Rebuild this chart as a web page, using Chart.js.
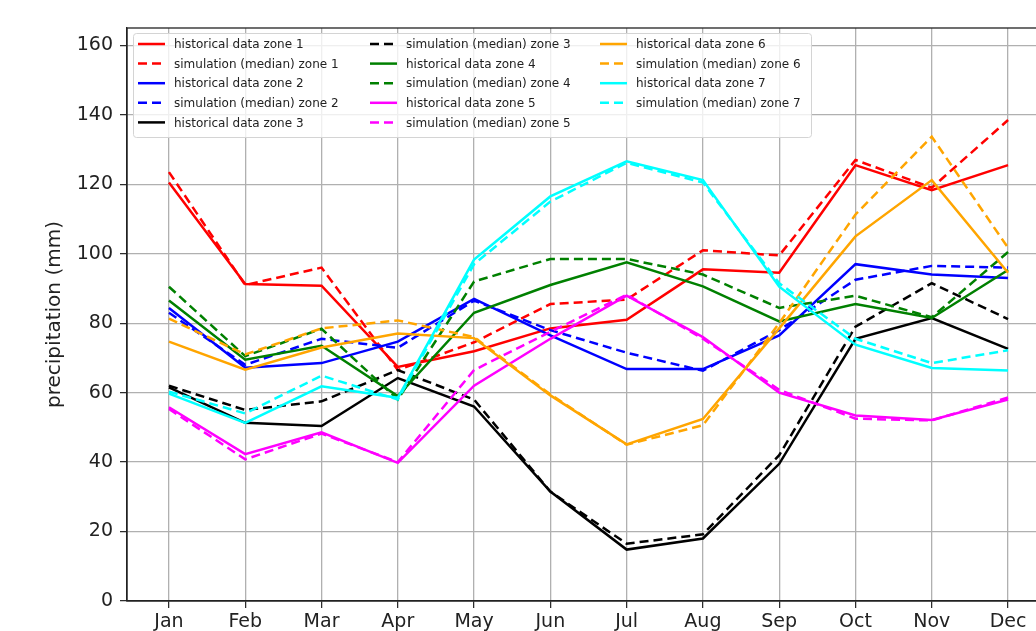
<!DOCTYPE html>
<html>
<head>
<meta charset="utf-8">
<script src="https://cdn.jsdelivr.net/npm/chart.js@4.4.1/dist/chart.umd.min.js"></script>
<style>
    html, body { margin: 0; padding: 0; background: #fff; overflow: hidden; }
    #wrap { width: 1036px; height: 631px; overflow: hidden; }
    canvas { display: block; }
</style>
</head>
<body>
<div id="wrap"><canvas id="precipChart" width="1072" height="660"></canvas></div>
<script>
const months = ["Jan", "Feb", "Mar", "Apr", "May", "Jun", "Jul", "Aug", "Sep", "Oct", "Nov", "Dec"];
const yTicks = [0, 20, 40, 60, 80, 100, 120, 140, 160];

const histZone1 = [120.5, 91.3, 90.8, 67.4, 71.9, 78.5, 81, 95.5, 94.5, 125.5, 118.3, 125.5];
const simZone1 = [123.5, 91, 96, 66.5, 74.5, 85.5, 86.8, 101, 99.5, 127, 119, 138.5];
const histZone2 = [84.4, 67.2, 68.5, 74.7, 87, 76.5, 66.8, 66.8, 76.5, 97, 94, 93];
const simZone2 = [83, 68, 75.5, 72.9, 86.5, 78, 71.5, 66.3, 78, 92.5, 96.5, 96];
const histZone3 = [61.5, 51.3, 50.4, 64.2, 56, 31.5, 14.8, 18, 39.5, 75.5, 81.5, 72.6];
const simZone3 = [62, 55, 57.5, 66.5, 58, 31.5, 16.5, 19.2, 42, 79, 91.5, 81.2];
const histZone4 = [86.5, 69.5, 73.5, 59, 83, 91, 97.5, 90.6, 80.5, 85.5, 81.5, 95.3];
const simZone4 = [90.5, 70.5, 78.4, 58, 92, 98.5, 98.5, 94, 84.4, 87.9, 81.7, 100.5];
const histZone5 = [55.8, 42.3, 48.6, 39.8, 62, 75.5, 87.9, 76, 60, 53.4, 52.1, 58];
const simZone5 = [55.3, 40.8, 48.2, 40, 66.5, 77.5, 88.2, 75.5, 60.8, 52.5, 52, 58.6];
const histZone6 = [74.7, 66.6, 73, 77, 75.7, 59.2, 45.1, 52.4, 78.5, 105, 121.2, 94.5];
const simZone6 = [81.3, 71, 78.5, 80.8, 76, 59.5, 45, 50.6, 80, 111.3, 133.7, 101.7];
const histZone7 = [59.7, 51.3, 61.8, 58.5, 98.3, 116.5, 126.6, 121.2, 90.5, 73.8, 67.1, 66.4];
const simZone7 = [60.3, 54, 64.9, 58, 97, 115, 126.2, 120.5, 91.5, 75.5, 68.5, 72.2];

const tickFont = { family: "DejaVu Sans", size: 19 };
const textColor = "#222";

function series(label, values, color, dashed, idx) {
    return {
        label: label,
        data: values.map((v, i) => ({ x: i, y: v })),
        borderColor: color,
        backgroundColor: color,
        borderWidth: 2.5,
        borderDash: dashed ? [9, 5] : [],
        pointRadius: 0,
        tension: 0,
        fill: false,
        order: -idx, // later series on top, like matplotlib
    };
}

const datasets = [
    series("historical data zone 1", histZone1, "red", false, 0),
    series("simulation (median) zone 1", simZone1, "red", true, 1),
    series("historical data zone 2", histZone2, "blue", false, 2),
    series("simulation (median) zone 2", simZone2, "blue", true, 3),
    series("historical data zone 3", histZone3, "black", false, 4),
    series("simulation (median) zone 3", simZone3, "black", true, 5),
    series("historical data zone 4", histZone4, "green", false, 6),
    series("simulation (median) zone 4", simZone4, "green", true, 7),
    series("historical data zone 5", histZone5, "magenta", false, 8),
    series("simulation (median) zone 5", simZone5, "magenta", true, 9),
    series("historical data zone 6", histZone6, "orange", false, 10),
    series("simulation (median) zone 6", simZone6, "orange", true, 11),
    series("historical data zone 7", histZone7, "cyan", false, 12),
    series("simulation (median) zone 7", simZone7, "cyan", true, 13),
];

// frame on top/right like matplotlib spines
const framePlugin = {
    id: "frame",
    afterDraw(chart) {
        const { ctx, chartArea: a } = chart;
        ctx.save();
        ctx.strokeStyle = "#222";
        ctx.lineWidth = 1.3;
        ctx.strokeRect(a.left, a.top, a.right - a.left, a.bottom - a.top);
        ctx.restore();
    },
};

// matplotlib style legend, 3 columns filled column by column
const mplLegend = {
    id: "mplLegend",
    afterDatasetsDraw(chart) {
        const ctx = chart.ctx;
        const colX = [138, 370, 600];
        const rows = 5;
        ctx.save();
        ctx.beginPath();
        ctx.roundRect(133.5, 33.5, 678, 104, 3);
        ctx.fillStyle = "rgba(255,255,255,0.8)";
        ctx.fill();
        ctx.strokeStyle = "#d4d4d4";
        ctx.lineWidth = 1;
        ctx.stroke();

        ctx.font = "12px 'DejaVu Sans'";
        ctx.textBaseline = "middle";
        chart.data.datasets.forEach((ds, i) => {
            const x = colX[Math.floor(i / rows)];
            const y = 44 + (i % rows) * 19.6;
            ctx.strokeStyle = ds.borderColor;
            ctx.lineWidth = 2.5;
            ctx.setLineDash(ds.borderDash);
            ctx.beginPath();
            ctx.moveTo(x, y);
            ctx.lineTo(x + 27, y);
            ctx.stroke();
            ctx.setLineDash([]);
            ctx.fillStyle = textColor;
            ctx.fillText(ds.label, x + 36, y + 1);
        });
        ctx.restore();
    },
};

new Chart(document.getElementById("precipChart").getContext("2d"), {
    type: "line",
    data: { datasets },
    plugins: [framePlugin, mplLegend],
    options: {
        responsive: false,
        animation: false,
        layout: { padding: { left: 0, top: 28, right: 22, bottom: 0 } },
        plugins: {
            legend: { display: false },
            tooltip: { enabled: false },
        },
        scales: {
            x: {
                type: "linear",
                min: -0.55,
                max: 11.55,
                afterBuildTicks: (s) => { s.ticks = months.map((m, i) => ({ value: i })); },
                afterFit: (s) => { s.height = 59; },
                ticks: {
                    callback: (v) => months[v],
                    font: tickFont,
                    color: textColor,
                    padding: 3,
                    maxRotation: 0,
                    autoSkip: false,
                },
                grid: { color: "#b0b0b0", lineWidth: 1.3, tickLength: 7, tickColor: "#222", tickWidth: 1.2 },
                border: { color: "#222", width: 1.3 },
            },
            y: {
                min: 0,
                max: 165,
                afterBuildTicks: (s) => { s.ticks = yTicks.map((v) => ({ value: v })); },
                afterFit: (s) => { s.width = 127; },
                ticks: { font: tickFont, color: textColor, padding: 7 },
                grid: { color: "#b0b0b0", lineWidth: 1.3, tickLength: 7, tickColor: "#222", tickWidth: 1.2 },
                border: { color: "#222", width: 1.3 },
                title: {
                    display: true,
                    text: "precipitation (mm)",
                    font: { family: "DejaVu Sans", size: 20 },
                    color: textColor,
                    padding: { top: 43, bottom: 0 },
                },
            },
        },
    },
});
</script>
</body>
</html>
